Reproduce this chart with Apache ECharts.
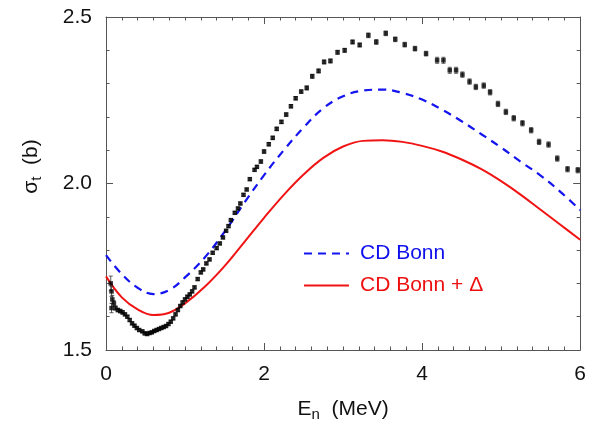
<!DOCTYPE html>
<html>
<head>
<meta charset="utf-8">
<script src="https://cdn.jsdelivr.net/npm/echarts@6/dist/echarts.min.js"></script>
<style>html,body{margin:0;padding:0;background:#fff}#c{width:589px;height:427px}</style>
</head>
<body>
<div id="c"></div>
<script>
// Measured total cross sections (MeV, barn, error)
const dataE = [0.06,0.07,0.08,0.07,0.10,0.12,0.15,0.18,0.21,0.24,0.27,0.30,0.33,0.36,0.39,0.42,0.46,0.49,0.52,0.55,0.58,0.61,0.64,0.67,0.70,0.73,0.76,0.79,0.82,0.85,0.88,0.91,0.94,0.97,1.00,1.03,1.06,1.09,1.12,1.16,1.20,1.23,1.27,1.31,1.35,1.40,1.44,1.48,1.52,1.55,1.58,1.63,1.67,1.70,1.74,1.78,1.82,1.88,1.91,1.96,2.00,2.06,2.11,2.16,2.22,2.28,2.34,2.40,2.47,2.54,2.61,2.69,2.76,2.84,2.93,3.02,3.12,3.21,3.32,3.42,3.54,3.66,3.78,3.91,4.05,4.19,4.27,4.35,4.43,4.51,4.60,4.68,4.78,4.86,4.96,5.06,5.16,5.27,5.38,5.48,5.60,5.71,5.84,5.97];
const dataSigma = [1.700,1.676,1.652,1.626,1.640,1.626,1.620,1.617,1.613,1.607,1.600,1.590,1.580,1.573,1.566,1.560,1.556,1.550,1.548,1.551,1.553,1.557,1.560,1.563,1.566,1.569,1.572,1.578,1.585,1.595,1.607,1.620,1.632,1.643,1.652,1.660,1.667,1.676,1.688,1.713,1.733,1.742,1.760,1.772,1.792,1.806,1.820,1.838,1.858,1.872,1.890,1.912,1.925,1.940,1.966,1.982,2.013,2.041,2.050,2.066,2.096,2.118,2.137,2.164,2.185,2.207,2.232,2.256,2.276,2.287,2.322,2.338,2.365,2.368,2.394,2.400,2.425,2.416,2.445,2.425,2.451,2.433,2.417,2.405,2.390,2.370,2.370,2.340,2.340,2.327,2.306,2.290,2.294,2.274,2.239,2.215,2.196,2.181,2.160,2.125,2.117,2.075,2.043,2.040];
const dataErr = [0.022,0.015,0.012,0.014,0.008,0.006,0.005,0.005,0.005,0.004,0.004,0.004,0.004,0.004,0.004,0.004,0.004,0.004,0.004,0.004,0.004,0.004,0.004,0.004,0.004,0.004,0.004,0.004,0.004,0.004,0.004,0.004,0.004,0.004,0.004,0.004,0.004,0.004,0.004,0.004,0.004,0.004,0.004,0.004,0.004,0.004,0.004,0.004,0.004,0.004,0.004,0.004,0.004,0.004,0.004,0.004,0.004,0.004,0.004,0.005,0.005,0.005,0.005,0.005,0.005,0.005,0.005,0.005,0.005,0.006,0.006,0.006,0.006,0.006,0.006,0.006,0.006,0.006,0.007,0.007,0.007,0.007,0.007,0.007,0.007,0.009,0.009,0.009,0.009,0.008,0.008,0.008,0.008,0.008,0.008,0.008,0.008,0.008,0.008,0.008,0.008,0.008,0.008,0.008];

// Theory curves
const curveE = [0,0.2,0.4,0.6,0.8,1.0,1.25,1.5,1.75,2.0,2.25,2.5,2.75,3.0,3.25,3.5,3.75,4.0,4.25,4.5,4.75,5.0,5.25,5.5,5.75,6.0];
const bonnSigma = [1.785,1.728,1.687,1.668,1.680,1.718,1.778,1.855,1.942,2.025,2.100,2.168,2.226,2.262,2.279,2.282,2.272,2.252,2.222,2.187,2.148,2.108,2.065,2.024,1.975,1.920];
const deltaSigma = [1.721,1.658,1.622,1.605,1.612,1.640,1.690,1.752,1.824,1.897,1.966,2.027,2.077,2.111,2.128,2.130,2.125,2.113,2.096,2.072,2.043,2.007,1.966,1.921,1.876,1.831];

const xTicks = [0,2,4,6];
const yTicks = [1.5,2.0,2.5];
const legendNames = ['CD Bonn','CD Bonn + \u0394'];

const points = dataE.map((e,i)=>[e,dataSigma[i]]);
const errs = dataE.map((e,i)=>[e,dataSigma[i],dataErr[i]]);
const bonn = curveE.map((e,i)=>[e,bonnSigma[i]]);
const delta = curveE.map((e,i)=>[e,deltaSigma[i]]);

const FONT = 'Liberation Sans';
const axisCol = '#555';
function xAx(pos, show){
  return {type:'value', position:pos, min:xTicks[0], max:xTicks[xTicks.length-1], interval:2,
    axisLine:{show:true, onZero:false, lineStyle:{color:axisCol,width:1}},
    axisTick:{show:true, inside:true, length:7, lineStyle:{color:axisCol}},
    minorTick:{show:true, splitNumber:10, length:3.5, lineStyle:{color:axisCol}},
    splitLine:{show:false}, minorSplitLine:{show:false},
    axisLabel:{show:show, margin:14, fontSize:21, fontFamily:FONT, color:'#111', formatter:v=>String(v)}};
}
function yAx(pos, show){
  return {type:'value', position:pos, min:yTicks[0], max:yTicks[yTicks.length-1], interval:0.5,
    axisLine:{show:true, onZero:false, lineStyle:{color:axisCol,width:1}},
    axisTick:{show:true, inside:true, length:7, lineStyle:{color:axisCol}},
    minorTick:{show:true, splitNumber:5, length:3.5, lineStyle:{color:axisCol}},
    splitLine:{show:false}, minorSplitLine:{show:false},
    axisLabel:{show:show, margin:14, fontSize:21, fontFamily:FONT, color:'#111', formatter:v=>v.toFixed(1)}};
}
const xa0 = xAx('bottom', true);
xa0.name = '{a|E}{s|n}{a|  (MeV)}';
xa0.nameLocation = 'middle';
xa0.nameGap = 47;
xa0.nameTextStyle = {rich:{a:{fontSize:21,fontFamily:FONT,color:'#111'}, s:{fontSize:15,fontFamily:FONT,color:'#111',verticalAlign:'bottom',padding:[10,0,0,0]}}};
const ya0 = yAx('left', true);
ya0.name = '{a|\u03c3}{s|t}{a|  (b)}';
ya0.nameLocation = 'middle';
ya0.nameGap = 62;
ya0.nameTextStyle = {padding:[0,0,0,34], rich:{a:{fontSize:21,fontFamily:FONT,color:'#111'}, s:{fontSize:15,fontFamily:FONT,color:'#111',padding:[10,0,0,0]}}};

const chart = echarts.init(document.getElementById('c'), null, {renderer:'canvas'});
chart.setOption({
  animation:false,
  backgroundColor:'#fff',
  grid:{left:106, right:7, top:17, bottom:75, containLabel:false},
  xAxis:[xa0, xAx('top', false)],
  yAxis:[ya0, yAx('right', false)],
  legend:{
    orient:'vertical', left:298, top:238, itemWidth:45, itemHeight:14, itemGap:11,
    itemStyle:{opacity:0, borderWidth:0},
    textStyle:{fontSize:21, fontFamily:FONT, padding:[0,0,0,6]},
    data:[{name:legendNames[0], textStyle:{color:'#1010ee'}},{name:legendNames[1], textStyle:{color:'#ee1010'}}]
  },
  series:[
    {name:legendNames[0], type:'line', data:bonn, smooth:0.4, symbol:'none', xAxisIndex:0, yAxisIndex:0,
      lineStyle:{color:'#1414f0', width:2.2, type:[8,6]}, itemStyle:{color:'#1414f0'}, z:3},
    {name:legendNames[1], type:'line', data:delta, smooth:0.4, symbol:'none', xAxisIndex:0, yAxisIndex:0,
      lineStyle:{color:'#f01414', width:2}, itemStyle:{color:'#f01414'}, z:3},
    {name:'data', type:'scatter', data:points, symbol:'rect', symbolSize:4.5, itemStyle:{color:'#000'}, z:5},
    {name:'err', type:'custom', data:errs, z:4,
      renderItem:function(params, api){
        const x = api.value(0), y = api.value(1), e = api.value(2);
        const top = api.coord([x, y+e]);
        const bot = api.coord([x, y-e]);
        const w = 2;
        const st = {stroke:'#333', lineWidth:0.8};
        return {type:'group', children:[
          {type:'line', shape:{x1:top[0],y1:top[1],x2:bot[0],y2:bot[1]}, style:st},
          {type:'line', shape:{x1:top[0]-w,y1:top[1],x2:top[0]+w,y2:top[1]}, style:st},
          {type:'line', shape:{x1:bot[0]-w,y1:bot[1],x2:bot[0]+w,y2:bot[1]}, style:st}
        ]};
      }}
  ]
});
</script>
</body>
</html>
